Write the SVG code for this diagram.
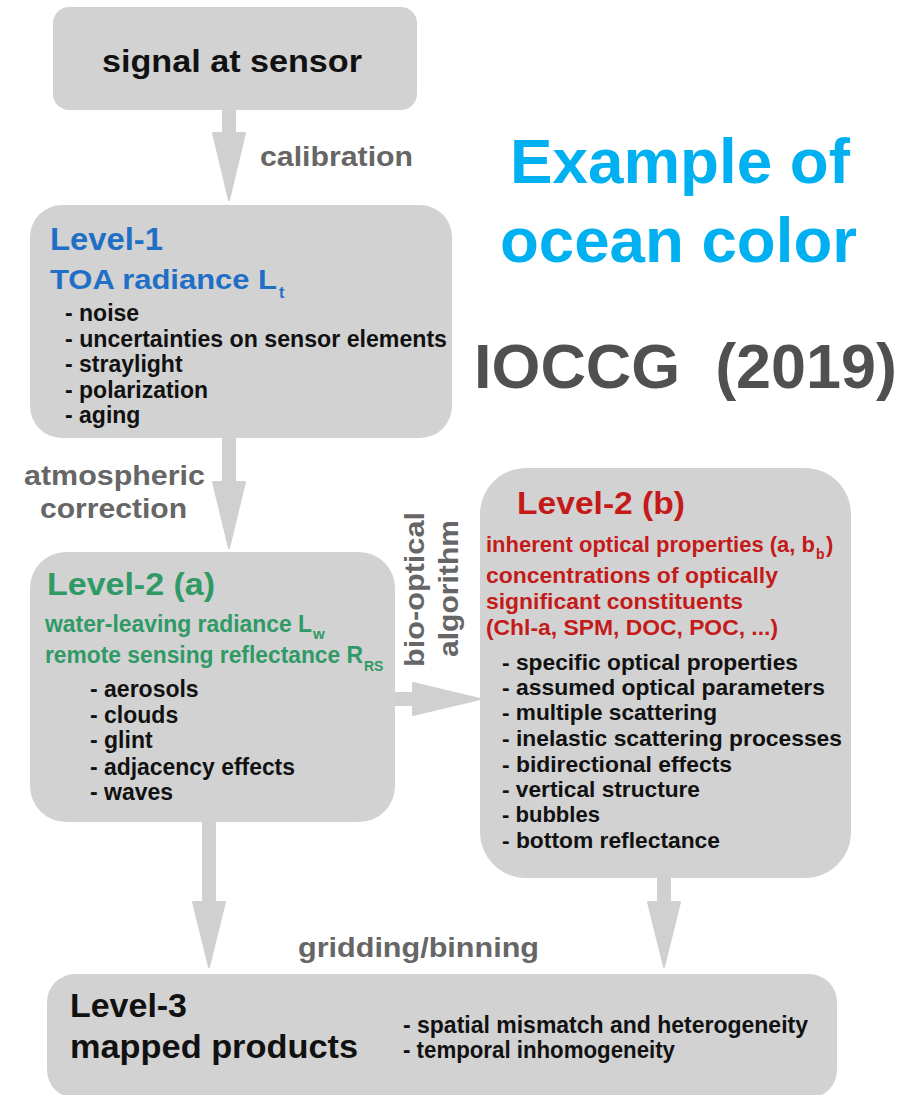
<svg xmlns="http://www.w3.org/2000/svg" width="907" height="1095" viewBox="0 0 907 1095">
<style>
text{font-family:"Liberation Sans",Arial,Helvetica,sans-serif;font-weight:bold}
.box{fill:#d2d2d2}
.arr{fill:#d0d0d0;stroke:#d0d0d0;stroke-width:2;stroke-linejoin:round}
.lbl{fill:#666666;font-size:27px}
.blk{fill:#111111}
.b23{fill:#111111;font-size:23px}
.b22{fill:#111111;font-size:22px}
.blue{fill:#1f6fc6}
.green{fill:#2f9a66}
.red{fill:#c41a1a}
</style>
<rect width="907" height="1095" fill="#ffffff"/>

<g id="connectors">
<path class="arr" d="M223,110 L235,110 L235,133 L245,133 L229,200 L213,133 L223,133 Z"/>
<path class="arr" d="M223,438 L235,438 L235,482 L245,482 L229,548 L213,482 L223,482 Z"/>
<path class="arr" d="M395,693 L413,693 L413,683 L480,699 L413,715 L413,705 L395,705 Z"/>
<path class="arr" d="M203,822 L215,822 L215,902 L225,902 L209,967 L193,902 L203,902 Z"/>
<path class="arr" d="M658,878 L670,878 L670,902 L680,902 L664,967 L648,902 L658,902 Z"/>
<text class="lbl" x="260" y="166" textLength="153" lengthAdjust="spacingAndGlyphs">calibration</text>
<text class="lbl" x="24" y="485" textLength="181" lengthAdjust="spacingAndGlyphs">atmospheric</text>
<text class="lbl" x="40" y="518" textLength="147" lengthAdjust="spacingAndGlyphs">correction</text>
<text class="lbl" transform="translate(424,667) rotate(-90)" textLength="155" lengthAdjust="spacingAndGlyphs">bio-optical</text>
<text class="lbl" transform="translate(458,657) rotate(-90)" textLength="137" lengthAdjust="spacingAndGlyphs">algorithm</text>
<text class="lbl" x="298" y="957" textLength="241" lengthAdjust="spacingAndGlyphs">gridding/binning</text>
</g>

<g id="signal">
<rect class="box" x="53" y="7" width="364" height="103" rx="16"/>
<text class="blk" x="102" y="72" font-size="31" textLength="260" lengthAdjust="spacingAndGlyphs">signal at sensor</text>
</g>

<g id="level1">
<rect class="box" x="30" y="205" width="422" height="233" rx="32"/>
<text class="blue" x="50" y="250" font-size="32" textLength="113" lengthAdjust="spacingAndGlyphs">Level-1</text>
<text class="blue" x="50" y="289" font-size="28" textLength="227" lengthAdjust="spacingAndGlyphs">TOA radiance L</text>
<text class="blue" x="279" y="298" font-size="16">t</text>
<text class="b23" x="65" y="321">- noise</text>
<text class="b23" x="65" y="347" textLength="382" lengthAdjust="spacingAndGlyphs">- uncertainties on sensor elements</text>
<text class="b23" x="65" y="372">- straylight</text>
<text class="b23" x="65" y="398">- polarization</text>
<text class="b23" x="65" y="423">- aging</text>
</g>

<g id="level2a">
<rect class="box" x="30" y="552" width="365" height="270" rx="36"/>
<text class="green" x="47" y="595" font-size="32" textLength="168" lengthAdjust="spacingAndGlyphs">Level-2 (a)</text>
<text class="green" x="45" y="632" font-size="23" textLength="267" lengthAdjust="spacingAndGlyphs">water-leaving radiance L</text>
<text class="green" x="313" y="639" font-size="15">w</text>
<text class="green" x="45" y="663" font-size="23" textLength="318" lengthAdjust="spacingAndGlyphs">remote sensing reflectance R</text>
<text class="green" x="364" y="671" font-size="14">RS</text>
<text class="b23" x="90" y="697">- aerosols</text>
<text class="b23" x="90" y="723">- clouds</text>
<text class="b23" x="90" y="748">- glint</text>
<text class="b23" x="90" y="775" textLength="205" lengthAdjust="spacingAndGlyphs">- adjacency effects</text>
<text class="b23" x="90" y="800">- waves</text>
</g>

<g id="level2b">
<rect class="box" x="480" y="468" width="371" height="410" rx="46"/>
<text class="red" x="517" y="514" font-size="32" textLength="168" lengthAdjust="spacingAndGlyphs">Level-2 (b)</text>
<text class="red" x="486" y="552" font-size="22" textLength="329" lengthAdjust="spacingAndGlyphs">inherent optical properties (a, b</text>
<text class="red" x="816" y="559" font-size="14">b</text>
<text class="red" x="826" y="552" font-size="22">)</text>
<text class="red" x="486" y="583" font-size="22" textLength="292" lengthAdjust="spacingAndGlyphs">concentrations of optically</text>
<text class="red" x="486" y="609" font-size="22" textLength="257" lengthAdjust="spacingAndGlyphs">significant constituents</text>
<text class="red" x="486" y="635" font-size="22" textLength="292" lengthAdjust="spacingAndGlyphs">(Chl-a, SPM, DOC, POC, ...)</text>
<text class="b22" x="502" y="670" textLength="296" lengthAdjust="spacingAndGlyphs">- specific optical properties</text>
<text class="b22" x="502" y="695" textLength="323" lengthAdjust="spacingAndGlyphs">- assumed optical parameters</text>
<text class="b22" x="502" y="720" textLength="215" lengthAdjust="spacingAndGlyphs">- multiple scattering</text>
<text class="b22" x="502" y="746" textLength="340" lengthAdjust="spacingAndGlyphs">- inelastic scattering processes</text>
<text class="b22" x="502" y="772" textLength="230" lengthAdjust="spacingAndGlyphs">- bidirectional effects</text>
<text class="b22" x="502" y="797" textLength="198" lengthAdjust="spacingAndGlyphs">- vertical structure</text>
<text class="b22" x="502" y="822" textLength="98" lengthAdjust="spacingAndGlyphs">- bubbles</text>
<text class="b22" x="502" y="848" textLength="218" lengthAdjust="spacingAndGlyphs">- bottom reflectance</text>
</g>

<g id="level3">
<rect class="box" x="47" y="974" width="790" height="124" rx="28"/>
<text class="blk" x="70" y="1017" font-size="33" textLength="117" lengthAdjust="spacingAndGlyphs">Level-3</text>
<text class="blk" x="70" y="1058" font-size="34" textLength="288" lengthAdjust="spacingAndGlyphs">mapped products</text>
<text class="b23" x="403" y="1033" textLength="405" lengthAdjust="spacingAndGlyphs">- spatial mismatch and heterogeneity</text>
<text class="b23" x="403" y="1058" textLength="272" lengthAdjust="spacingAndGlyphs">- temporal inhomogeneity</text>
</g>

<g id="title">
<text x="510" y="183" font-size="63" fill="#00b0f0" textLength="340" lengthAdjust="spacingAndGlyphs">Example of</text>
<text x="500" y="262" font-size="63" fill="#00b0f0" textLength="357" lengthAdjust="spacingAndGlyphs">ocean color</text>
<text x="474" y="388" font-size="63" fill="#505050" style="white-space:pre" textLength="423" lengthAdjust="spacingAndGlyphs">IOCCG  (2019)</text>
</g>
</svg>
